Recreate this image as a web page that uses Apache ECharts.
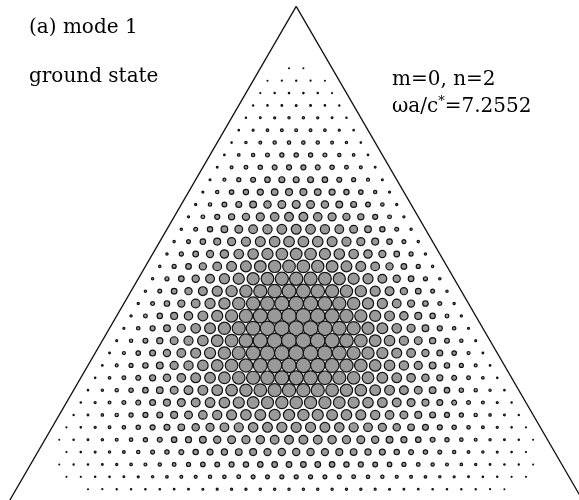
<!DOCTYPE html>
<html>
<head>
<meta charset="utf-8">
<script src="https://cdn.jsdelivr.net/npm/echarts@6/dist/echarts.min.js"></script>
<style>
  html, body { margin: 0; padding: 0; background: #ffffff; }
  #chart { width: 579px; height: 500px; }
</style>
</head>
<body>
<div id="chart"></div>
<script>
// Field amplitude (percent of peak) on each lattice row of the triangular cavity.
// Row n holds n+1 sites; sites on the triangle edges carry zero amplitude.
const r05 = [0,0,2,2,0,0];
const r06 = [0,2,3,4,3,2,0];
const r07 = [0,3,5,6,6,5,3,0];
const r08 = [0,4,6,8,9,8,6,4,0];
const r09 = [0,5,8,11,12,12,11,8,5,0];
const r10 = [0,6,10,13,15,16,15,13,10,6,0];
const r11 = [0,6,12,16,19,20,20,19,16,12,6,0];
const r12 = [0,7,14,19,23,25,26,25,23,19,14,7,0];
const r13 = [0,8,16,22,26,30,31,31,30,26,22,16,8,0];
const r14 = [0,9,17,24,30,34,37,37,37,34,30,24,17,9,0];
const r15 = [0,10,19,27,33,38,42,44,44,42,38,33,27,19,10,0];
const r16 = [0,11,20,29,37,43,47,50,51,50,47,43,37,29,20,11,0];
const r17 = [0,11,22,31,39,46,52,55,57,57,55,52,46,39,31,22,11,0];
const r18 = [0,12,23,33,42,50,56,60,63,64,63,60,56,50,42,33,23,12,0];
const r19 = [0,12,23,34,44,52,59,65,69,70,70,69,65,59,52,44,34,23,12,0];
const r20 = [0,12,24,35,45,54,62,69,73,76,77,76,73,69,62,54,45,35,24,12,0];
const r21 = [0,12,24,35,46,56,64,71,77,81,83,83,81,77,71,64,56,46,35,24,12,0];
const r22 = [0,12,24,35,46,57,66,73,80,84,87,88,87,84,80,73,66,57,46,35,24,12,0];
const r23 = [0,12,23,35,46,57,66,74,81,87,90,92,92,90,87,81,74,66,57,46,35,23,12,0];
const r24 = [0,11,23,34,45,56,66,74,82,88,92,95,96,95,92,88,82,74,66,56,45,34,23,11,0];
const r25 = [0,11,22,33,44,54,64,73,81,88,93,96,98,98,96,93,88,81,73,64,54,44,33,22,11,0];
const r26 = [0,10,20,31,42,52,62,71,80,87,92,96,99,100,99,96,92,87,80,71,62,52,42,31,20,10,0];
const r27 = [0,9,19,29,39,50,59,69,77,84,90,95,98,100,100,98,95,90,84,77,69,59,50,39,29,19,9,0];
const r28 = [0,8,17,27,37,46,56,65,73,81,87,92,96,98,99,98,96,92,87,81,73,65,56,46,37,27,17,8,0];
const r29 = [0,7,16,24,33,43,52,60,69,76,83,88,92,95,96,96,95,92,88,83,76,69,60,52,43,33,24,16,7,0];
const r30 = [0,6,14,22,30,38,47,55,63,70,77,83,87,90,92,93,92,90,87,83,77,70,63,55,47,38,30,22,14,6,0];
const r31 = [0,6,12,19,26,34,42,50,57,64,70,76,81,84,87,88,88,87,84,81,76,70,64,57,50,42,34,26,19,12,6,0];
const r32 = [0,5,10,16,23,30,37,44,51,57,63,69,73,77,80,81,82,81,80,77,73,69,63,57,51,44,37,30,23,16,10,5,0];
const r33 = [0,4,8,13,19,25,31,37,44,50,55,60,65,69,71,73,74,74,73,71,69,65,60,55,50,44,37,31,25,19,13,8,4,0];
const r34 = [0,3,6,11,15,20,26,31,37,42,47,52,56,59,62,64,66,66,66,64,62,59,56,52,47,42,37,31,26,20,15,11,6,3,0];
const r35 = [0,2,5,8,12,16,20,25,30,34,38,43,46,50,52,54,56,57,57,56,54,52,50,46,43,38,34,30,25,20,16,12,8,5,2,0];
const r36 = [0,0,3,6,9,12,15,19,23,26,30,33,37,39,42,44,45,46,46,46,45,44,42,39,37,33,30,26,23,19,15,12,9,6,3,0,0];
const r37 = [0,0,2,4,6,8,11,13,16,19,22,24,27,29,31,33,34,35,35,35,35,34,33,31,29,27,24,22,19,16,13,11,8,6,4,2,0,0];
const r38 = [0,0,0,2,3,5,6,8,10,12,14,16,17,19,20,22,23,23,24,24,24,23,23,22,20,19,17,16,14,12,10,8,6,5,3,2,0,0,0];
const r39 = [0,0,0,0,0,2,3,4,5,6,6,7,8,9,10,11,11,12,12,12,12,12,12,11,11,10,9,8,7,6,6,5,4,3,2,0,0,0,0,0];

const modeRows = [r05,r06,r07,r08,r09,r10,r11,r12,r13,r14,r15,r16,r17,r18,r19,r20,r21,r22,
                  r23,r24,r25,r26,r27,r28,r29,r30,r31,r32,r33,r34,r35,r36,r37,r38,r39];

// Cavity outline in lattice units: apex at row 0, base at row 40.
const cavityCorners = [[0, 0], [-20, 40], [20, 40], [0, 0]];

// Annotations
const panelLabel = '(a) mode 1';
const stateLabel = 'ground state';
const indexLabel = 'm=0, n=2';
const freqPrefix = 'ωa/c';
const freqValue = '=7.2552';

// Lattice sites: x = horizontal offset from the centre line (one unit per site), y = row index.
const sites = [];
modeRows.forEach(function (row) {
  const n = row.length - 1;
  row.forEach(function (amp, j) {
    if (amp > 0) sites.push([j - n / 2, n, amp]);
  });
});

const SERIF = '"DejaVu Serif", "Liberation Serif", serif';
const chart = echarts.init(document.getElementById('chart'), null, { renderer: 'canvas' });

chart.setOption({
  animation: false,
  backgroundColor: '#ffffff',
  grid: {
    left: 9, top: 6.4, width: 574.4, height: 495.2,
    containLabel: false, outerBoundsMode: 'none'
  },
  xAxis: { type: 'value', min: -20, max: 20, show: false },
  yAxis: { type: 'value', min: 0, max: 40, inverse: true, show: false },
  series: [
    {
      type: 'scatter',
      data: sites,
      symbol: 'circle',
      symbolSize: function (v) { return 0.6 + v[2] / 100 * 14.4; },
      itemStyle: { color: '#999999', borderColor: '#111111', borderWidth: 1.2, opacity: 1 },
      emphasis: { disabled: true },
      silent: true,
      clip: false,
      z: 2
    },
    {
      type: 'line',
      data: cavityCorners,
      symbol: 'none',
      lineStyle: { color: '#111111', width: 1.3 },
      emphasis: { disabled: true },
      silent: true,
      clip: false,
      z: 3
    }
  ],
  graphic: [
    { type: 'text', x: 29, y: 28, style: { text: panelLabel, font: '20px ' + SERIF, fill: '#000', align: 'left', verticalAlign: 'middle' } },
    { type: 'text', x: 29, y: 77, style: { text: stateLabel, font: '20px ' + SERIF, fill: '#000', align: 'left', verticalAlign: 'middle' } },
    { type: 'text', x: 392, y: 80, style: { text: indexLabel, font: '20px ' + SERIF, fill: '#000', align: 'left', verticalAlign: 'middle' } },
    {
      type: 'text', x: 392, y: 107,
      style: {
        text: '{n|' + freqPrefix + '}{s|*}{n|' + freqValue + '}',
        align: 'left', verticalAlign: 'middle',
        rich: {
          n: { fontSize: 20, fontFamily: SERIF, fill: '#000', lineHeight: 24, verticalAlign: 'middle' },
          s: { fontSize: 13, fontFamily: SERIF, fill: '#000', lineHeight: 13, verticalAlign: 'top' }
        }
      }
    }
  ]
});
</script>
</body>
</html>
